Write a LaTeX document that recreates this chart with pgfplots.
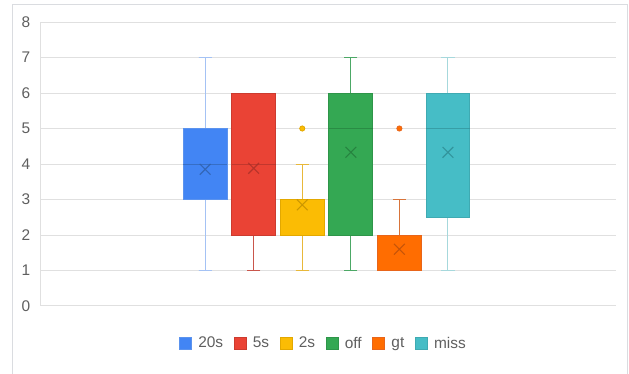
\documentclass[border=0pt]{standalone}
\usepackage{pgfplots}
\pgfplotsset{compat=1.18}
\usepgfplotslibrary{statistics}
\usepackage{fontspec}
\setmainfont{Liberation Sans}
\definecolor{gridgrey}{HTML}{E0E0E0}
\definecolor{framegrey}{HTML}{DADCE0}
\definecolor{tickgrey}{HTML}{5F5F5F}
% 20s
\definecolor{c1}{HTML}{4285F4}\definecolor{c1b}{HTML}{5B93EE}\definecolor{c1w}{HTML}{A4C2F4}\definecolor{c1m}{HTML}{2F5FA8}
% 5s
\definecolor{c2}{HTML}{EA4335}\definecolor{c2b}{HTML}{CC3B2F}\definecolor{c2w}{HTML}{C9564C}\definecolor{c2m}{HTML}{A83028}
% 2s
\definecolor{c3}{HTML}{FBBC04}\definecolor{c3b}{HTML}{E3A800}\definecolor{c3w}{HTML}{E8B83A}\definecolor{c3m}{HTML}{C08E00}
% off
\definecolor{c4}{HTML}{34A853}\definecolor{c4b}{HTML}{2E9549}\definecolor{c4w}{HTML}{4CA866}\definecolor{c4m}{HTML}{237A3B}
% gt
\definecolor{c5}{HTML}{FF6D01}\definecolor{c5b}{HTML}{E8651A}\definecolor{c5w}{HTML}{D8743A}\definecolor{c5m}{HTML}{B84E0A}
% miss
\definecolor{c6}{HTML}{46BDC6}\definecolor{c6b}{HTML}{3FAAB2}\definecolor{c6w}{HTML}{A6D8DC}\definecolor{c6m}{HTML}{2E8A92}
\begin{document}
\begin{tikzpicture}
\useasboundingbox (0,0) rectangle (629bp,374bp);
\draw[framegrey, line width=1bp] (12.3bp,-2bp) -- (12.3bp,369.7bp) -- (627.5bp,369.7bp) -- (627.5bp,-2bp);
\begin{axis}[
  at={(41bp,68bp)}, anchor=south west,
  scale only axis, width=575bp, height=284bp,
  xmin=-2.38, xmax=9.46, ymin=0, ymax=8,
  ytick={0,1,...,8}, xtick=\empty,
  axis x line*=bottom, axis y line*=left,
  axis line style={draw=gridgrey, line width=1bp},
  ymajorgrids, grid style={draw=gridgrey, line width=1bp},
  major tick length=0pt,
  /pgf/number format/assume math mode=true,
  yticklabel style={font=\fontsize{15.5}{16}\selectfont, text=tickgrey, inner sep=0pt, xshift=-10.5bp},
  clip=false,
  boxplot/draw direction=y,
  boxplot/box extend=0.9,
  boxplot/whisker extend=0.27,
  legend columns=6,
  legend image code/.code={\draw[#1, line width=1bp] (0bp,-6bp) rectangle (12bp,6bp);},
  legend style={at={(0.4896,-0.131)}, anchor=center, draw=none, fill=none, inner sep=0pt,
    font=\fontsize{15.5}{16}\selectfont, text=tickgrey,
    nodes={inner sep=0pt},
    /tikz/every even column/.append style={column sep=10.7bp},
    /tikz/every odd column/.append style={column sep=6bp}},
]
% 20s
\addplot[forget plot, fill=c1, draw=c1b, line width=1bp,
  boxplot prepared={lower whisker=1, lower quartile=3, median=4, upper quartile=5, upper whisker=7, draw position=1,
    every whisker/.style={draw=c1w, line width=1bp}, every median/.style={draw=c1m, opacity=0.6, line width=1bp}}]
  coordinates {};
% 5s
\addplot[forget plot, fill=c2, draw=c2b, line width=1bp,
  boxplot prepared={lower whisker=1, lower quartile=2, median=4, upper quartile=6, upper whisker=6, draw position=2,
    every whisker/.style={draw=c2w, line width=1bp}, every median/.style={draw=c2m, opacity=0.6, line width=1bp}}]
  coordinates {};
% 2s
\addplot[forget plot, fill=c3, draw=c3b, line width=1bp, mark=*, mark size=2.6bp, mark options={fill=c3, draw=c3b, line width=0.8bp},
  boxplot prepared={lower whisker=1, lower quartile=2, median=3, upper quartile=3, upper whisker=4, draw position=3,
    every whisker/.style={draw=c3w, line width=1bp}, every median/.style={draw=c3b, line width=1bp}}]
  table[row sep=\\, y index=0] {data\\ 5\\};
% off
\addplot[forget plot, fill=c4, draw=c4b, line width=1bp,
  boxplot prepared={lower whisker=1, lower quartile=2, median=5, upper quartile=6, upper whisker=7, draw position=4,
    every whisker/.style={draw=c4w, line width=1bp}, every median/.style={draw=c4m, opacity=0.6, line width=1bp}}]
  coordinates {};
% gt
\addplot[forget plot, fill=c5, draw=c5b, line width=1bp, mark=*, mark size=2.6bp, mark options={fill=c5, draw=c5b, line width=0.8bp},
  boxplot prepared={lower whisker=1, lower quartile=1, median=1, upper quartile=2, upper whisker=3, draw position=5,
    every whisker/.style={draw=c5w, line width=1bp}, every median/.style={draw=c5b, line width=1bp}}]
  table[row sep=\\, y index=0] {data\\ 5\\};
% miss
\addplot[forget plot, fill=c6, draw=c6b, line width=1bp,
  boxplot prepared={lower whisker=1, lower quartile=2.5, median=5, upper quartile=6, upper whisker=7, draw position=6,
    every whisker/.style={draw=c6w, line width=1bp}, every median/.style={draw=c6m, opacity=0.6, line width=1bp}}]
  coordinates {};
% means
\addplot[forget plot, only marks, mark=x, mark size=7.6bp, mark options={draw=c1m, opacity=0.8, line width=1.1bp}] coordinates {(1,3.85)};
\addplot[forget plot, only marks, mark=x, mark size=7.6bp, mark options={draw=c2m, opacity=0.8, line width=1.1bp}] coordinates {(2,3.88)};
\addplot[forget plot, only marks, mark=x, mark size=7.6bp, mark options={draw=c3m, opacity=0.8, line width=1.1bp}] coordinates {(3,2.85)};
\addplot[forget plot, only marks, mark=x, mark size=7.6bp, mark options={draw=c4m, opacity=0.8, line width=1.1bp}] coordinates {(4,4.33)};
\addplot[forget plot, only marks, mark=x, mark size=7.6bp, mark options={draw=c5m, opacity=0.8, line width=1.1bp}] coordinates {(5,1.6)};
\addplot[forget plot, only marks, mark=x, mark size=7.6bp, mark options={draw=c6m, opacity=0.8, line width=1.1bp}] coordinates {(6,4.33)};
% legend
\addlegendimage{fill=c1, draw=c1b}\addlegendentry{20s}
\addlegendimage{fill=c2, draw=c2b}\addlegendentry{5s}
\addlegendimage{fill=c3, draw=c3b}\addlegendentry{2s}
\addlegendimage{fill=c4, draw=c4b}\addlegendentry{off}
\addlegendimage{fill=c5, draw=c5b}\addlegendentry{gt}
\addlegendimage{fill=c6, draw=c6b}\addlegendentry{miss}
\end{axis}
\end{tikzpicture}
\end{document}
